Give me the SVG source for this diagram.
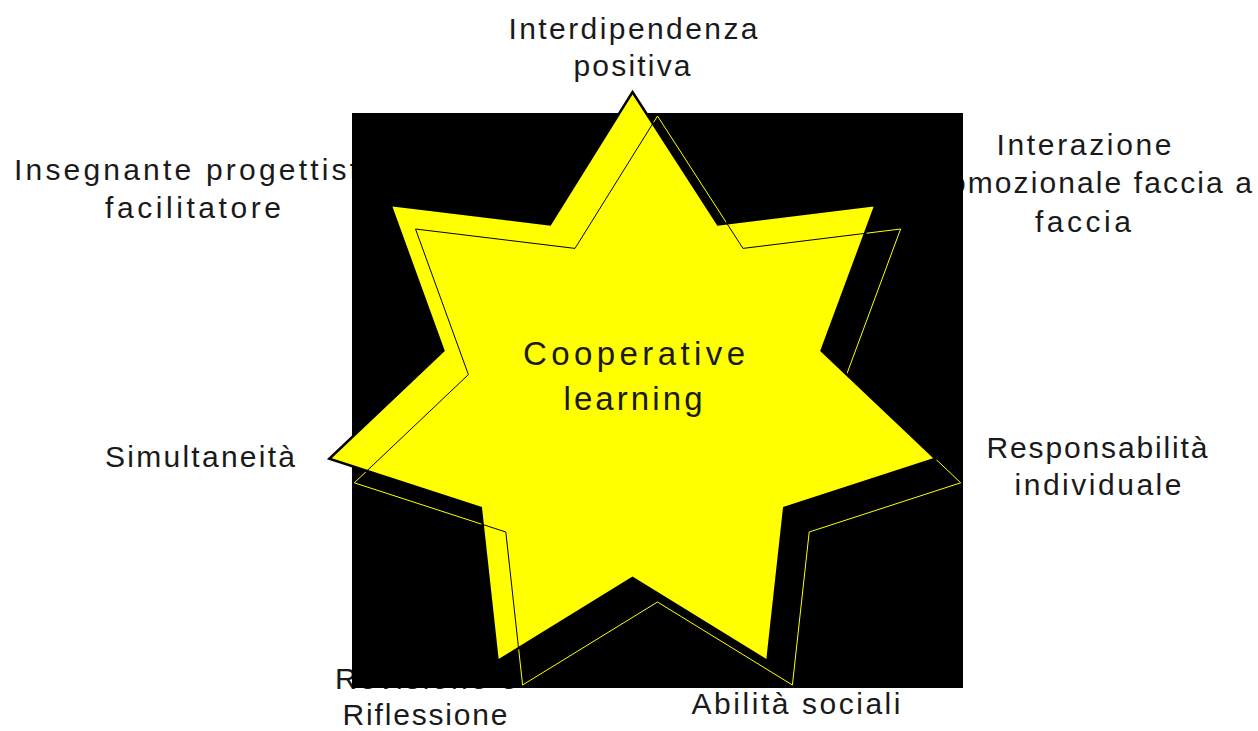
<svg xmlns="http://www.w3.org/2000/svg" xmlns:xlink="http://www.w3.org/1999/xlink" width="1258" height="731" viewBox="0 0 1258 731">
  <style>
    .lbl{font-family:"Liberation Sans",Arial,sans-serif;font-size:30px;fill:#1a1a1a;text-anchor:middle}
    .ctr{font-family:"Liberation Sans",Arial,sans-serif;font-size:33px;fill:#1a1a1a;text-anchor:middle}
    .main{fill:#ffff00;stroke:#000;stroke-width:2.5;stroke-linejoin:miter}
    .shadow{fill:#000;stroke:#ffff00;stroke-width:1}
    .shadowline{fill:none;stroke:#000;stroke-width:1}
  </style>
  <defs>
    <polygon id="star" points="632.5,92 718,224.4 875.6,205 821.6,350.6 935.7,458.8 784.2,508 767.4,661 632.5,578 497.6,661 480.8,508 329.3,458.8 443.4,350.6 390.5,205 550,224.4"/>
    <clipPath id="starClip">
      <use xlink:href="#star"/>
    </clipPath>
  </defs>
  <rect width="1258" height="731" fill="#fff"/>

  <g id="label-interdipendenza">
    <text class="lbl" x="633" y="39" textLength="249" lengthAdjust="spacing">Interdipendenza</text>
    <text class="lbl" x="632" y="76" textLength="117" lengthAdjust="spacing">positiva</text>
  </g>
  <g id="label-insegnante">
    <text class="lbl" x="196" y="180" textLength="364" lengthAdjust="spacing">Insegnante progettista</text>
    <text class="lbl" x="193" y="218" textLength="176" lengthAdjust="spacing">facilitatore</text>
  </g>
  <g id="label-interazione">
    <text class="lbl" x="1084" y="155" textLength="175" lengthAdjust="spacing">Interazione</text>
    <text class="lbl" x="1085" y="193" textLength="334" lengthAdjust="spacing">promozionale faccia a</text>
    <text class="lbl" x="1083" y="232" textLength="96" lengthAdjust="spacing">faccia</text>
  </g>
  <g id="label-responsabilita">
    <text class="lbl" x="1097" y="458" textLength="221" lengthAdjust="spacing">Responsabilità</text>
    <text class="lbl" x="1098" y="495" textLength="167" lengthAdjust="spacing">individuale</text>
  </g>
  <g id="label-simultaneita">
    <text class="lbl" x="200" y="467" textLength="190" lengthAdjust="spacing">Simultaneità</text>
  </g>
  <g id="label-revisione">
    <text class="lbl" x="426" y="689" textLength="182" lengthAdjust="spacing">Revisione e</text>
    <text class="lbl" x="425" y="725" textLength="165" lengthAdjust="spacing">Riflessione</text>
  </g>
  <g id="label-abilita">
    <text class="lbl" x="796" y="714" textLength="209" lengthAdjust="spacing">Abilità sociali</text>
  </g>

  <g id="star-node">
    <rect x="352" y="113" width="611" height="575" fill="#000"/>
    <use xlink:href="#star" class="shadow" transform="translate(25,24)"/>
    <use xlink:href="#star" class="main"/>
    <g clip-path="url(#starClip)">
      <use xlink:href="#star" class="shadowline" transform="translate(25,24)"/>
    </g>
    <text class="ctr" x="634" y="365" textLength="222" lengthAdjust="spacing">Cooperative</text>
    <text class="ctr" x="633" y="410" textLength="139" lengthAdjust="spacing">learning</text>
  </g>
</svg>
